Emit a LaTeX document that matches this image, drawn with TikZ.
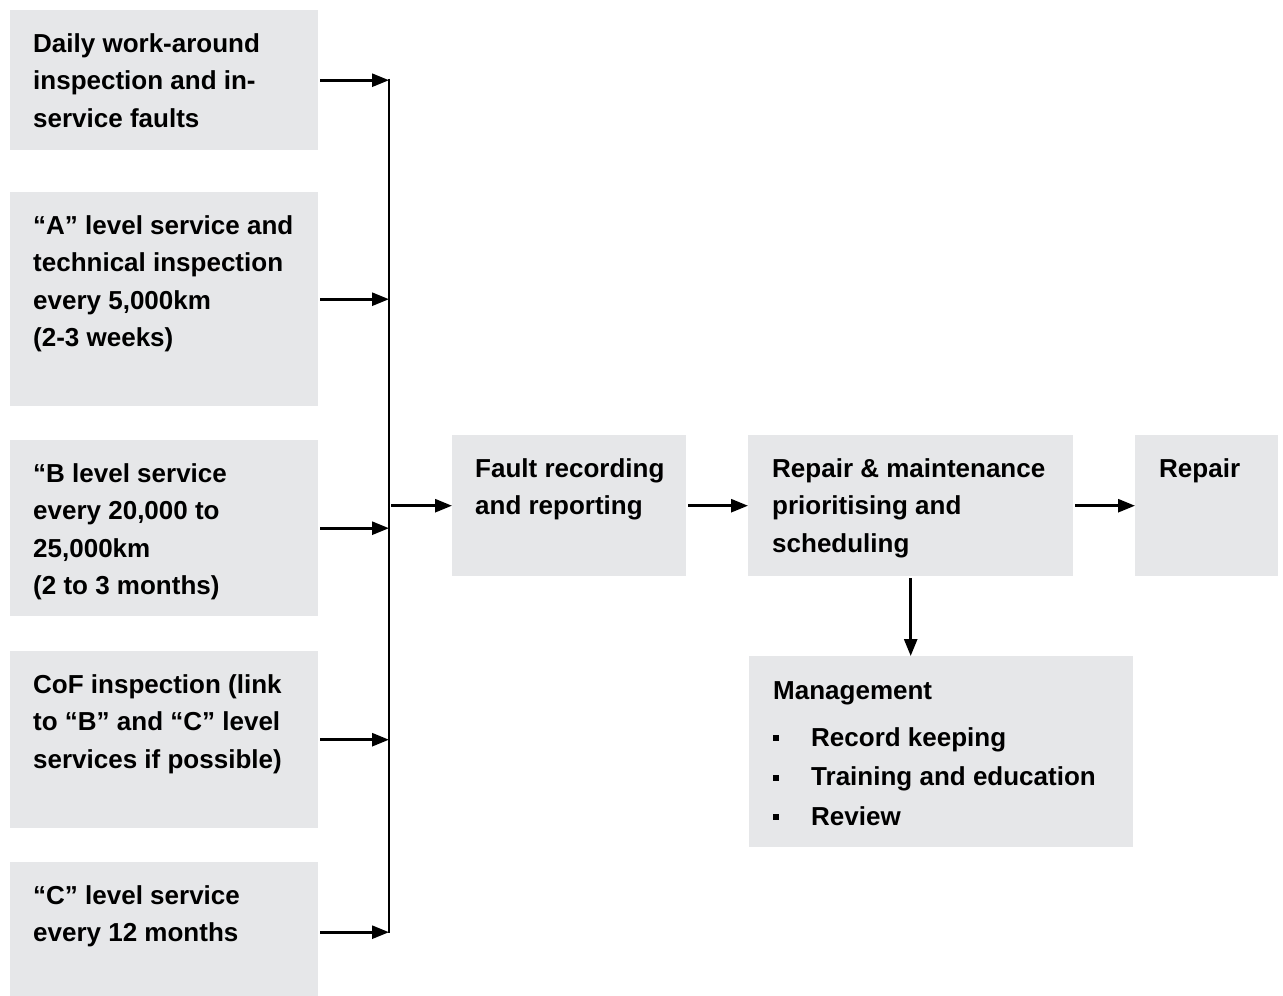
\documentclass[tikz,border=0pt]{standalone}
\usepackage{fontspec}
\setmainfont{Liberation Sans}
\usetikzlibrary{arrows.meta}
\definecolor{boxgray}{RGB}{230,231,233}
\newcommand\bx[4]{\parbox[c][#2pt][t]{#1pt}{\raggedright\leftskip=#3pt\rule{0pt}{42pt}#4}}
\newcommand\itm[1]{\makebox[38pt][l]{\raisebox{5pt}{\rule{6pt}{6pt}}}#1}
\begin{document}
\begin{tikzpicture}[x=1pt,y=-1pt,
  box/.style={fill=boxgray, inner sep=0pt, anchor=north west,
    font=\fontsize{26}{37.5}\selectfont\bfseries},
  arr/.style={line width=2.7pt, -{Triangle[length=17pt,width=13pt]}, shorten <=2pt},
  bus/.style={line width=2.7pt}]
\useasboundingbox (0,0) rectangle (1283,996);
\node[box] (b1) at (10,10) {\bx{308}{140}{23}{Daily work-around\\inspection and in-\\service faults}};
\node[box] (b2) at (10,192) {\bx{308}{214}{23}{“A” level service and\\technical inspection\\every 5,000km\\(2-3 weeks)}};
\node[box] (b3) at (10,440) {\bx{308}{176}{23}{“B level service\\every 20,000 to\\25,000km\\(2 to 3 months)}};
\node[box] (b4) at (10,651) {\bx{308}{177}{23}{CoF inspection (link\\to “B” and “C” level\\services if possible)}};
\node[box] (b5) at (10,862) {\bx{308}{140}{23}{“C” level service\\every 12 months}};
\node[box] (fault) at (452,435) {\bx{234}{141}{23}{Fault recording\\and reporting}};
\node[box] (rm) at (748,435) {\bx{325}{141}{24}{Repair \& maintenance\\prioritising and\\scheduling}};
\node[box] (rep) at (1135,435) {\bx{143}{141}{24}{Repair}};
\node[box] (mgmt) at (749,656) {\parbox[c][191pt][t]{384pt}{\raggedright\leftskip=24pt\baselineskip=39.5pt\rule{0pt}{43pt}Management\\[7.5pt]\itm{Record keeping}\\\itm{Training and education}\\\itm{Review}}};
\coordinate (bustop) at (389,80);
\coordinate (busbot) at (389,932);
\draw[bus] ([yshift=1.35pt]bustop) -- ([yshift=-1.35pt]busbot);
\foreach \b in {b1,b2,b3,b4,b5}
  \draw[arr] (\b.east) -- (\b.east -| bustop);
\draw[arr] (fault.west -| bustop) -- (fault.west);
\draw[arr] (fault.east) -- (rm.west);
\draw[arr] (rm.east) -- (rep.west);
\draw[arr] (rm.south) -- (rm.south |- mgmt.north);
\end{tikzpicture}
\end{document}
